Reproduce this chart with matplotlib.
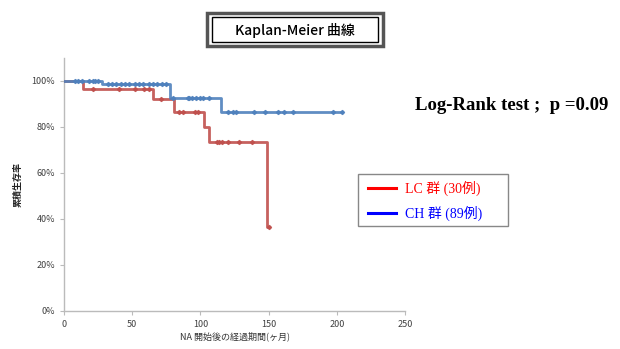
import numpy as np
import matplotlib
matplotlib.use('Agg')
import matplotlib.pyplot as plt
from matplotlib.patches import Rectangle
from matplotlib.lines import Line2D

plt.rcParams['font.family'] = ['Noto Sans CJK JP', 'DejaVu Sans']

# LC group (30 cases): step times / survival, censored times
lc_times = [0, 14, 65, 80.6, 103, 106.5, 148.6, 150]
lc_surv = [1.0, 0.967, 0.92, 0.867, 0.80, 0.736, 0.367, 0.367]
lc_censor = [21, 40, 52, 59, 62, 71, 84, 87, 96, 98, 112, 114, 116, 120, 128, 138, 150]

# CH group (89 cases)
ch_times = [0, 27.6, 78, 115, 204]
ch_surv = [1.0, 0.989, 0.925, 0.864, 0.864]
ch_censor = [8, 10, 13, 18, 21, 23, 25, 32, 35, 38, 42, 45, 48, 52, 55, 58, 62,
             65, 68, 72, 75, 80, 91, 92, 94, 97, 100, 102, 106, 120, 124, 126,
             139, 147, 157, 161, 168, 197, 204]

x_ticks = [0, 50, 100, 150, 200, 250]
y_ticks = [0, 0.2, 0.4, 0.6, 0.8, 1.0]
y_ticklabels = ['0%', '20%', '40%', '60%', '80%', '100%']

W, H = 620, 349
fig = plt.figure(figsize=(W / 100, H / 100), dpi=100)
ax = fig.add_axes([64 / W, 1 - 311 / H, 341 / W, 253 / H])


def surv_at(times, surv, t):
    i = np.searchsorted(times, t, side='right') - 1
    return np.asarray(surv)[i]


for times, surv, cens, col in [(lc_times, lc_surv, lc_censor, '#C0504D'),
                               (ch_times, ch_surv, ch_censor, '#4F81BD')]:
    ax.step(times, surv, where='post', color=col, lw=2, alpha=0.9, zorder=3)
    ax.plot(cens, surv_at(times, surv, cens), ls='none', marker='D', ms=2.1,
            color=col, alpha=0.9, zorder=4)

ax.set_xlim(0, 250)
ax.set_ylim(0, 1.1)
ax.set_xticks(x_ticks)
ax.set_yticks(y_ticks)
ax.set_yticklabels(y_ticklabels)
ax.tick_params(labelsize=6.5, colors='#404040', length=3, width=0.8)
for s in ['top', 'right']:
    ax.spines[s].set_visible(False)
for s in ['left', 'bottom']:
    ax.spines[s].set_color('#BBBBBB')
    ax.spines[s].set_linewidth(1)
ax.tick_params(color='#BBBBBB')

ax.set_xlabel('NA 開始後の経過期間(ヶ月)', fontsize=6.5, labelpad=2, color='#333333')
ax.set_ylabel('累積生存率', fontsize=6.5, labelpad=6, color='#222222', fontweight='bold')

# title box with double border
fig.add_artist(Rectangle((207 / W, 1 - 46 / H), 176 / W, 33 / H, transform=fig.transFigure,
                         fill=False, ec='#555555', lw=2.5))
fig.add_artist(Rectangle((212 / W, 1 - 42 / H), 166 / W, 25 / H, transform=fig.transFigure,
                         fill=False, ec='black', lw=1))
fig.text(295 / W, 1 - 30 / H, 'Kaplan-Meier 曲線', ha='center', va='center', fontsize=10,
         fontweight='medium')

# log-rank text
fig.text(415 / W, 1 - 105 / H, 'Log-Rank test ;  p =0.09', ha='left', va='center',
         fontsize=13.5, fontweight='bold', family=['Liberation Serif'])

# legend box
fig.add_artist(Rectangle((358 / W, 1 - 226 / H), 150 / W, 52 / H, transform=fig.transFigure,
                         fill=True, fc='white', ec='#888888', lw=1))
for yy, col, lab in [(188, '#FF0000', 'LC 群 (30例)'), (213, '#0000FF', 'CH 群 (89例)')]:
    fig.add_artist(Line2D([368 / W, 396 / W], [1 - yy / H, 1 - yy / H],
                          transform=fig.transFigure, color=col, lw=2.2))
    fig.text(405 / W, 1 - yy / H, lab, ha='left', va='center', fontsize=10, color=col,
             family=['Liberation Serif', 'Noto Sans CJK JP'])

fig.savefig('out.png', dpi=100)
